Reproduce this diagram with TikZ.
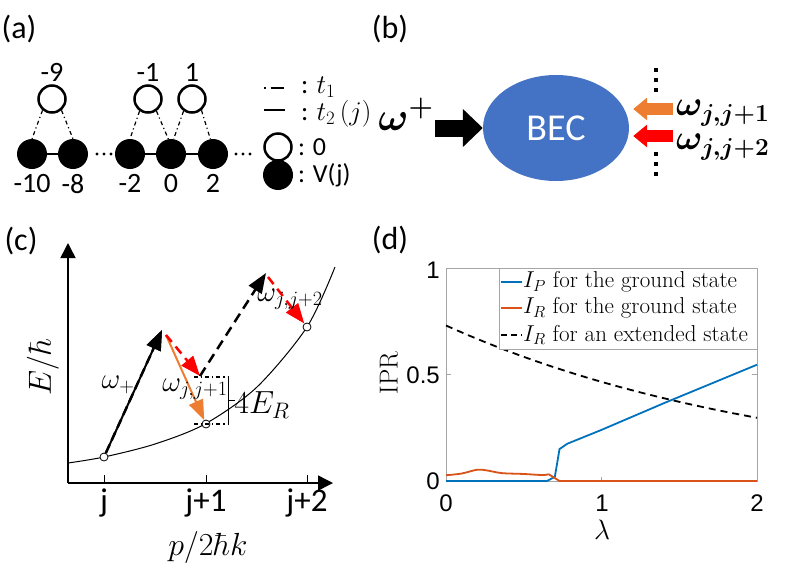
\RequirePackage{fix-cm}
\documentclass[tikz,border=0pt]{standalone}
\usepackage{amsmath}
\usepackage{fontspec}
\newfontfamily\cali{Carlito}
\newfontfamily\helv{Liberation Sans}
\usetikzlibrary{arrows.meta,shapes.geometric}
\definecolor{becblue}{HTML}{4472C4}
\definecolor{pumporange}{HTML}{ED7D31}
\definecolor{mblue}{HTML}{0072BD}
\definecolor{morange}{HTML}{D95319}
\definecolor{boxgray}{HTML}{A6A6A6}

\begin{document}
\begin{tikzpicture}[x=1pt,y=-1pt,
	site/.style={circle,draw,line width=2.5pt,minimum size=27pt,inner sep=0pt},
	fsite/.style={circle,fill=black,minimum size=30pt,inner sep=0pt},
	dotc/.style={circle,draw,fill=white,line width=0.8pt,minimum size=8pt,inner sep=0pt},
	hop/.style={line width=1.2pt,dash pattern=on 4pt off 3pt on 1.2pt off 3pt},
	cal/.style={font=\cali\fontsize{28}{30}\selectfont,inner sep=0pt},
	panel/.style={font=\cali\fontsize{32}{34}\selectfont,inner sep=0pt},
	calm/.style={font=\cali\fontsize{27}{29}\selectfont,inner sep=0pt},
	cmath/.style={font=\fontsize{29}{31}\selectfont,inner sep=0pt},
	bmath/.style={font=\fontsize{40}{44}\selectfont,inner sep=0pt},
	leg/.style={font=\fontsize{23}{25}\selectfont,inner sep=1pt,anchor=west},
	tick/.style={font=\helv\fontsize{24}{26}\selectfont,inner sep=1pt},
	bigtip/.style={-{Triangle[length=20pt,width=15pt]}}]
	\useasboundingbox (0,0) rectangle (789,576);

	% (a) the lattice
	\node[panel] (lba) at (19,29) {(a)};
	\node[fsite,label={[cal,label distance=5pt]below:-10}] (fm10) at (32,154) {};
	\node[fsite,label={[cal,label distance=5pt]below:-8}] (fm8) at (73,154) {};
	\node[fsite,label={[cal,label distance=5pt]below:-2}] (fm2) at (130,154) {};
	\node[fsite,label={[cal,label distance=5pt]below:0}] (f0) at (171,154) {};
	\node[fsite,label={[cal,label distance=5pt]below:2}] (f2) at (213,154) {};
	\node[site,label={[cal,label distance=3pt]above:-9}] (om9) at (52,99) {};
	\node[site,label={[cal,label distance=3pt]above:-1}] (om1) at (148,99) {};
	\node[site,label={[cal,label distance=3pt]above:1}] (o1) at (192,99) {};
	\draw[line width=1.5pt] (fm10) -- (fm8);
	\draw[line width=1.5pt] (fm2) -- (f0) -- (f2);
	\draw[hop] (om9.-130) -- (fm10.north);
	\draw[hop] (om9.-50) -- (fm8.north);
	\draw[hop] (om1.-125) -- (fm2.north);
	\draw[hop] (om1.-55) -- (f0.100);
	\draw[hop] (o1.-125) -- (f0.80);
	\draw[hop] (o1.-50) -- (f2.100);
	\foreach \x in {97,104,111,236,243,250}
		\fill (\x,154) circle (1.6pt);
	% legend of (a)
	\draw[line width=1.5pt,dash pattern=on 1.5pt off 5pt on 13pt] (264,88) -- (285,88);
	\node[calm,anchor=west] (lt1) at (301,87) {: $t_1$};
	\draw[line width=1.8pt] (264,110) -- (285,110);
	\node[calm,anchor=west] (lt2) at (301,114) {: $t_2\,(j)$};
	\node[site] (lo) at (278,147) {};
	\node[cal,font=\cali\fontsize{26}{28}\selectfont,anchor=west] (lz) at (298,147) {: 0};
	\node[fsite] (lf) at (278,175) {};
	\node[cal,font=\cali\fontsize{26}{28}\selectfont,anchor=west] (lv) at (298,175) {: V(j)};

	% (b) the BEC and its beams
	\node[panel] (lbb) at (390,29) {(b)};
	\node[ellipse,fill=becblue,minimum width=146pt,minimum height=106pt,inner sep=0pt,
		text=white,font=\cali\fontsize{38}{40}\selectfont] (bec) at (556,128) {BEC};
	\coordinate (wp) at (435,128);
	\coordinate (w1) at (673,109);
	\coordinate (w2) at (673,136);
	\draw[line width=17pt,-{Triangle[length=20pt,width=37pt]}] (wp) -- (bec.west);
	\draw[pumporange,line width=12pt,-{Triangle[length=14pt,width=22pt]}] (w1) -- ([xshift=4pt]w1 -| bec.east);
	\draw[red,line width=12pt,-{Triangle[length=14pt,width=22pt]}] (w2) -- ([xshift=4pt]w2 -| bec.east);
	\node[bmath] (lwp) at (406,114) {$\boldsymbol{\omega}^{\boldsymbol{+}}$};
	\node[bmath,font=\fontsize{35}{37}\selectfont,anchor=west] (lw1) at (676,113) {$\boldsymbol{\omega_{j,j+1}}$};
	\node[bmath,font=\fontsize{35}{37}\selectfont,anchor=west] (lw2) at (676,147) {$\boldsymbol{\omega_{j,j+2}}$};
	\foreach \y in {70,80,90,154,164,174}
		\fill (654,\y-2) rectangle (658,\y+2);

	% (c) dispersion and transitions
	\node[panel] (lbc) at (21,241) {(c)};
	\coordinate (corig) at (68,483);
	\draw[line width=1.5pt,-{Triangle[length=15pt,width=15pt]}] (corig) -- (68,243);
	\draw[line width=1.5pt,-{Triangle[length=15pt,width=15pt]}] (corig) -- (333,483);
	\foreach \x/\t in {104/j,206/j+1,307/j+2} {
		\draw[line width=1pt] (\x,475) -- (\x,483);
		\node[calm,font=\cali\fontsize{33}{35}\selectfont] at (\x,503) {\t};
	}
	\node[cmath,font=\fontsize{32}{34}\selectfont] (xlab) at (208,547) {$p/2\hbar k$};
	\node[cmath,font=\fontsize{32}{34}\selectfont,rotate=90] (ylab) at (43,367) {$E/\hbar$};
	\draw[line width=1pt] plot[smooth] coordinates {(68,463) (104,457) (155,444) (205,424) (257,387) (307,327) (335,267)};
	\node[dotc] (nj) at (104,457) {};
	\node[dotc] (nj1) at (206,424) {};
	\node[dotc] (nj2) at (307,327) {};
	\coordinate (tp1) at (162,330);
	\coordinate (kick) at (166,335);
	\coordinate (mid) at (200,376);
	\coordinate (tp2) at (266,273);
	\coordinate (kick2) at (268,277);
	\draw[line width=2pt,bigtip] (nj) -- (tp1);
	\draw[line width=2.5pt,dash pattern=on 9pt off 5pt,bigtip] (nj) -- (tp1);
	\draw[pumporange,line width=2pt,bigtip] (kick) -- (nj1);
	\draw[red,line width=2.5pt,dash pattern=on 9pt off 6pt,bigtip] (kick) -- (mid);
	\draw[line width=2.5pt,dash pattern=on 10pt off 6pt,bigtip] (mid) -- (tp2);
	\draw[red,line width=2.5pt,dash pattern=on 9pt off 6pt,bigtip] (kick2) -- (nj2);
	\draw[hop] (194,377) -- (228,377);
	\draw[hop] (194,424) -- (228,424);
	\draw[line width=1pt] (228,377) -- (228,424);
	\draw[line width=1pt] (228,400) -- (235,400);
	\node[cmath] (lwplus) at (118,385) {$\omega_+$};
	\node[cmath] (lwj1) at (195,389) {$\omega_{j,j+1}$};
	\node[cmath] (lwj2) at (290,299) {$\omega_{j,j+2}$};
	\node[cmath,font=\fontsize{32}{34}\selectfont] (lfour) at (262,405) {$4E_R$};

	% (d) IPR plot
	\node[panel] (lbd) at (390,240) {(d)};
	\begin{scope}[shift={(446,481)},x=155.5pt,y=213pt]
		\draw[boxgray,line width=0.8pt] (0,0) rectangle (2,1);
		\draw[boxgray,line width=0.8pt] (1,0) -- (1,0.02) (1,1) -- (1,0.98)
			(0,0.5) -- (0.03,0.5) (2,0.5) -- (1.97,0.5);
		\draw[line width=1.8pt,dash pattern=on 7pt off 5pt] plot[domain=0:2,samples=41] (\x,{0.73*exp(-0.45*\x)});
		\draw[mblue,line width=1.8pt] plot coordinates {(0,0) (0.65,0) (0.70,0.02) (0.73,0.15) (0.78,0.175) (1,0.24) (1.4,0.365) (2,0.546)};
		\draw[morange,line width=1.8pt] plot[smooth,tension=0.5] coordinates {(0,0.027) (0.1,0.035) (0.2,0.053) (0.26,0.05) (0.36,0.037) (0.5,0.033) (0.62,0.028) (0.66,0.032)};
		\draw[morange,line width=1.8pt] (0.66,0.032) -- (0.73,0) -- (2,0);
	\end{scope}
	\node[tick,anchor=east] (yt1) at (441,270) {1};
	\node[tick,anchor=east] (yt5) at (441,375) {0.5};
	\node[tick,anchor=east] (yt0) at (441,481) {0};
	\node[tick] (xt0) at (446,503) {0};
	\node[tick] (xt1) at (602,503) {1};
	\node[tick] (xt2) at (757,503) {2};
	\node[font=\fontsize{28}{30}\selectfont] (lamlab) at (602,530) {$\lambda$};
	\node[font=\fontsize{26}{28}\selectfont,rotate=90] (iprlab) at (389,373) {IPR};
	\draw[boxgray,fill=white,line width=0.8pt] (499,268) rectangle (757,349);
	\draw[mblue,line width=1.8pt] (501,282) -- (522,282);
	\node[leg] (lg1) at (522,282) {$I_P$ for the ground state};
	\draw[morange,line width=1.8pt] (501,308) -- (522,308);
	\node[leg] (lg2) at (522,308) {$I_R$ for the ground state};
	\draw[line width=1.8pt,dash pattern=on 6pt off 4pt] (501,335) -- (522,335);
	\node[leg] (lg3) at (522,335) {$I_R$ for an extended state};
\end{tikzpicture}
\end{document}
